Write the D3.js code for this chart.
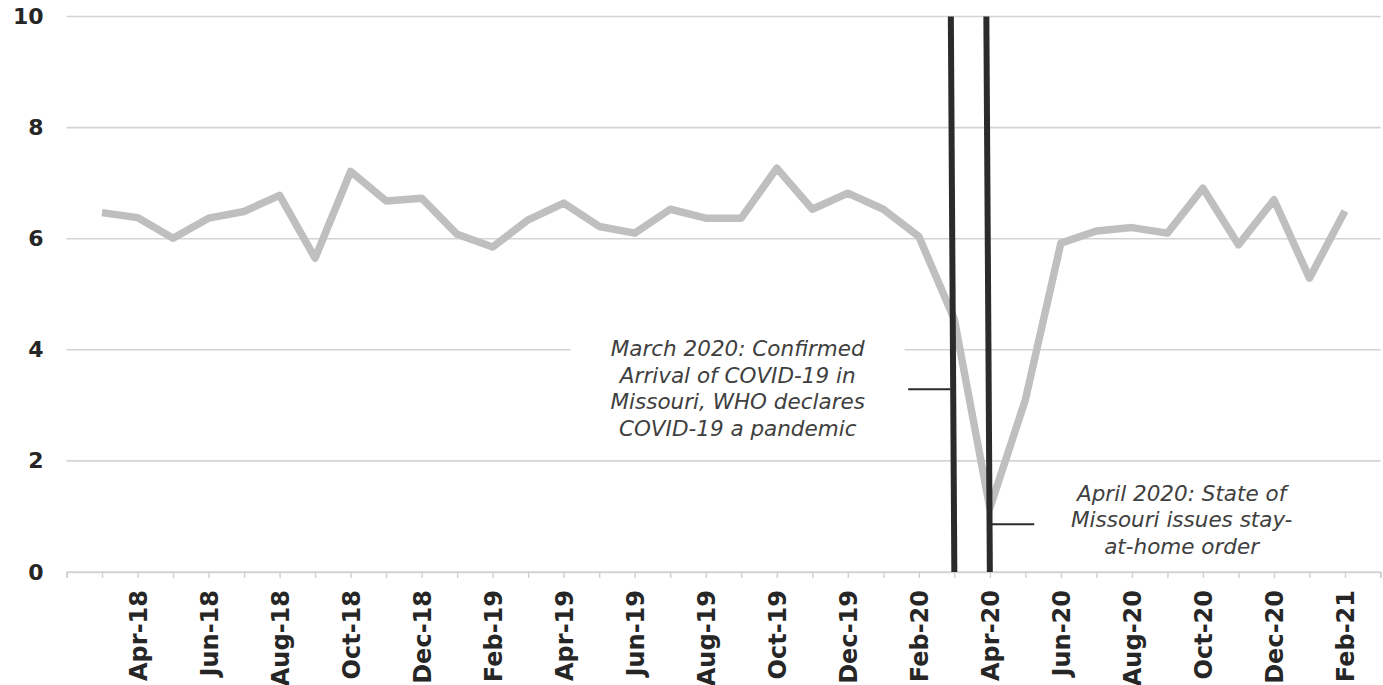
<!DOCTYPE html>
<html>
<head>
<meta charset="utf-8">
<script src="https://cdn.jsdelivr.net/npm/d3@7"></script>
<style>
  body { margin: 0; background: #fff; }
  svg text { font-family: "DejaVu Sans", Verdana, sans-serif; }
</style>
</head>
<body>
<svg id="chart" width="1383" height="685"></svg>
<script>
// monthly values, Mar-18 .. Feb-21
const months = ['Mar-18','Apr-18','May-18','Jun-18','Jul-18','Aug-18','Sep-18','Oct-18','Nov-18','Dec-18',
  'Jan-19','Feb-19','Mar-19','Apr-19','May-19','Jun-19','Jul-19','Aug-19','Sep-19','Oct-19','Nov-19','Dec-19',
  'Jan-20','Feb-20','Mar-20','Apr-20','May-20','Jun-20','Jul-20','Aug-20','Sep-20','Oct-20','Nov-20','Dec-20',
  'Jan-21','Feb-21'];
const values = [6.47, 6.38, 6.01, 6.37, 6.49, 6.78, 5.65, 7.21, 6.68, 6.73,
  6.08, 5.85, 6.34, 6.64, 6.22, 6.10, 6.53, 6.37, 6.37, 7.27, 6.53, 6.82,
  6.53, 6.04, 4.55, 1.15, 3.10, 5.92, 6.14, 6.20, 6.10, 6.91, 5.89, 6.70,
  5.29, 6.50];
const yTicks = [0, 2, 4, 6, 8, 10];
const eventMonths = ['Mar-20', 'Apr-20'];
const marchNote = ['March 2020: Confirmed', 'Arrival of COVID-19 in', 'Missouri, WHO declares', 'COVID-19 a pandemic'];
const aprilNote = ['April 2020: State of', 'Missouri issues stay-', 'at-home order'];

const svg = d3.select('#chart');
const margin = { top: 16.5, right: 2.5, bottom: 113, left: 66.5 };
const w = +svg.attr('width');
const h = +svg.attr('height');

// x runs over month index, with one empty slot on each side
const x = d3.scaleLinear().domain([-1, months.length]).range([margin.left, w - margin.right]);
const y = d3.scaleLinear().domain([0, 10]).range([h - margin.bottom, margin.top]);

// gridlines
svg.append('g')
  .selectAll('line')
  .data(yTicks)
  .join('line')
  .attr('x1', x(-1)).attr('x2', x(months.length))
  .attr('y1', d => y(d)).attr('y2', d => y(d))
  .attr('stroke', '#d4d4d4')
  .attr('stroke-width', 1.6);

// y axis labels
const yAxis = d3.axisLeft(y).tickValues(yTicks).tickSize(0).tickPadding(23);
svg.append('g')
  .attr('transform', `translate(${margin.left},0)`)
  .call(yAxis)
  .call(g => g.select('.domain').remove())
  .call(g => g.selectAll('text')
    .attr('font-size', 22).attr('font-weight', 'bold').attr('fill', '#262626')
    .attr('font-family', '"DejaVu Sans", Verdana, sans-serif'));

// x axis ticks (every month boundary) and rotated labels every second month
const xAxis = d3.axisBottom(x)
  .tickValues(d3.range(-1, months.length + 1))
  .tickSize(6)
  .tickFormat(i => (i >= 0 && i < months.length && i % 2 === 1) ? months[i] : '');
svg.append('g')
  .attr('transform', `translate(0,${y(0)})`)
  .call(xAxis)
  .call(g => g.select('.domain').attr('stroke', '#d4d4d4').attr('stroke-width', 1.6))
  .call(g => g.selectAll('.tick line').attr('stroke', '#cfcfcf').attr('stroke-width', 1.4))
  .call(g => g.selectAll('text')
    .attr('font-size', 24).attr('font-weight', 'bold').attr('fill', '#262626')
    .attr('font-family', '"DejaVu Sans", Verdana, sans-serif')
    .attr('text-anchor', 'end')
    .attr('dy', '0.36em')
    .attr('transform', 'translate(0,18) rotate(-90)')
    .attr('x', 0).attr('y', 0));

// white box that hides the gridline behind the March note
svg.append('rect')
  .attr('x', x(13.2)).attr('y', y(4.4))
  .attr('width', x(22.6) - x(13.2)).attr('height', y(2.1) - y(4.4))
  .attr('fill', '#fff');

// data line
const line = d3.line().x((d, i) => x(i)).y(d => y(d));
svg.append('path')
  .datum(values)
  .attr('d', line)
  .attr('fill', 'none')
  .attr('stroke', '#bfbfbf')
  .attr('stroke-width', 7.5)
  .attr('stroke-linejoin', 'round');

// event marker lines
svg.append('g')
  .selectAll('line')
  .data(eventMonths)
  .join('line')
  .attr('x1', d => x(months.indexOf(d)) - 3.5)
  .attr('x2', d => x(months.indexOf(d)))
  .attr('y1', y(10)).attr('y2', y(0))
  .attr('stroke', '#2b2b2b')
  .attr('stroke-width', 6);

// leader lines
const iMar = months.indexOf('Mar-20');
const iApr = months.indexOf('Apr-20');
svg.append('line')
  .attr('x1', x(iMar - 1.3)).attr('x2', x(iMar) - 4)
  .attr('y1', y(3.29)).attr('y2', y(3.29))
  .attr('stroke', '#2b2b2b').attr('stroke-width', 1.8);
svg.append('line')
  .attr('x1', x(iApr) + 2).attr('x2', x(iApr + 1.25))
  .attr('y1', y(0.86)).attr('y2', y(0.86))
  .attr('stroke', '#2b2b2b').attr('stroke-width', 1.8);

// annotation texts
function note(lines, cx, firstBaseline) {
  svg.append('text')
    .attr('text-anchor', 'middle')
    .attr('font-size', 21.5)
    .attr('font-style', 'italic')
    .attr('fill', '#404040')
    .selectAll('tspan')
    .data(lines)
    .join('tspan')
    .attr('x', cx)
    .attr('y', (d, i) => firstBaseline + i * 26.5)
    .text(d => d);
}
note(marchNote, x(17.9), y(3.88));
note(aprilNote, x(30.4), y(1.28));
</script>
</body>
</html>
